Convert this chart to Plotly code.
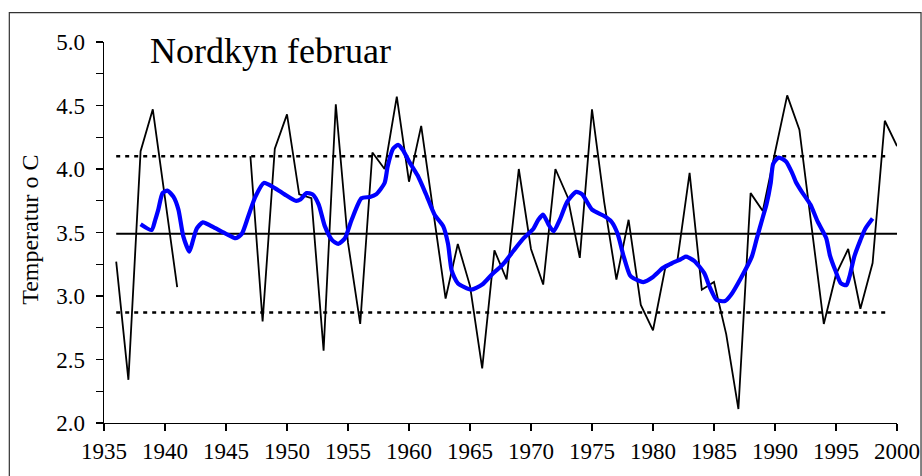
import plotly.graph_objects as go

# ---- data -------------------------------------------------------------
years = list(range(1936, 2001))
temps = [
    3.27, 2.34, 4.14, 4.47, 3.77, 3.07,             # 1936-1941
    None, None, None, None, None,                    # 1942-1946 (missing)
    4.10, 2.80, 4.16, 4.43, 3.80, 3.77, 2.57, 4.51,  # 1947-1954
    3.42, 2.78, 4.13, 4.00, 4.57, 3.90, 4.34, 3.66,  # 1955-1962
    2.98, 3.41, 3.08, 2.43, 3.36, 3.13, 4.00, 3.37,  # 1963-1970
    3.09, 4.00, 3.78, 3.30, 4.47, 3.74, 3.13, 3.60,  # 1971-1978
    2.93, 2.73, 3.22, 3.28, 3.97, 3.05, 3.11, 2.70,  # 1979-1986
    2.11, 3.81, 3.67, 4.13, 4.58, 4.31, 3.55, 2.78,  # 1987-1994
    3.17, 3.37, 2.90, 3.26, 4.38, 4.18,              # 1995-2000
]

smooth_years = [
    1938.0, 1938.9, 1939.2, 1939.45, 1939.8, 1940.2, 1940.7, 1941.1, 1941.5,
    1942.0, 1942.3, 1942.6, 1943.1, 1944.0, 1945.0, 1945.8, 1946.3, 1946.8,
    1947.4, 1948.1, 1949.0, 1949.8, 1950.7, 1951.1, 1951.6, 1952.1, 1952.6,
    1953.1, 1953.7, 1954.2, 1954.75, 1955.3, 1956.1, 1956.8, 1957.3, 1958.0,
    1958.25, 1958.7, 1959.1, 1959.5, 1960.0, 1960.7, 1961.4, 1962.1, 1962.8,
    1963.2, 1963.5, 1964.0, 1965.1, 1966.0, 1966.9, 1967.5, 1967.8, 1968.6,
    1969.4, 1970.2, 1970.6, 1971.0, 1971.45, 1971.85, 1972.4, 1972.95, 1973.7,
    1974.2, 1975.0, 1976.0, 1976.6, 1977.1, 1977.6, 1978.1, 1978.4, 1979.2,
    1980.0, 1980.8, 1981.6, 1982.3, 1982.7, 1983.4, 1984.2, 1984.65, 1985.2,
    1985.9, 1986.4, 1987.2, 1988.1, 1988.5, 1989.0, 1989.3, 1989.65, 1989.85,
    1990.3, 1990.9, 1991.4, 1991.7, 1992.2, 1992.9, 1993.5, 1994.2, 1994.5,
    1994.95, 1995.4, 1995.85, 1996.1, 1996.5, 1997.0, 1997.4, 1998.0,
]
smooth_values = [
    3.565, 3.52, 3.60, 3.68, 3.81, 3.83, 3.78, 3.68, 3.47,
    3.35, 3.44, 3.53, 3.58, 3.54, 3.49, 3.455, 3.49, 3.62,
    3.78, 3.89, 3.85, 3.80, 3.75, 3.76, 3.81, 3.80, 3.72,
    3.55, 3.44, 3.41, 3.455, 3.60, 3.77, 3.78, 3.80, 3.89,
    4.02, 4.16, 4.19, 4.15, 4.06, 3.95, 3.80, 3.64, 3.55,
    3.41, 3.20, 3.10, 3.05, 3.09, 3.18, 3.23, 3.26, 3.36,
    3.455, 3.53, 3.60, 3.64, 3.56, 3.51, 3.61, 3.74, 3.82,
    3.80, 3.68, 3.63, 3.585, 3.49, 3.31, 3.165, 3.14, 3.11,
    3.15, 3.22, 3.26, 3.29, 3.31, 3.275, 3.18, 3.07, 2.97,
    2.96, 3.01, 3.14, 3.31, 3.45, 3.62, 3.72, 3.89, 4.04,
    4.09, 4.06, 3.97, 3.90, 3.82, 3.72, 3.585, 3.455, 3.32,
    3.20, 3.10, 3.085, 3.15, 3.31, 3.44, 3.53, 3.61,
]

mean_level = 3.49
upper_level = 4.10
lower_level = 2.87
level_span = [1936, 2000]
dotted_span = [1936, 1999.4]

x_ticks = list(range(1935, 2001, 5))
y_ticks = [2.0, 2.5, 3.0, 3.5, 4.0, 4.5, 5.0]

title_text = "Nordkyn februar"
y_title = "Temperatur o C"

# ---- figure -----------------------------------------------------------
FONT = "Liberation Serif, Times New Roman, serif"

fig = go.Figure()

fig.add_trace(go.Scatter(x=level_span, y=[mean_level, mean_level], mode="lines",
                         line=dict(color="black", width=1.8), hoverinfo="skip"))
for lvl in (upper_level, lower_level):
    fig.add_trace(go.Scatter(x=dotted_span, y=[lvl, lvl], mode="lines",
                             line=dict(color="black", width=2.6, dash="4px,5px"),
                             hoverinfo="skip"))

fig.add_trace(go.Scatter(x=years, y=temps, mode="lines", connectgaps=False,
                         line=dict(color="black", width=1.8)))

fig.add_trace(go.Scatter(x=smooth_years, y=smooth_values, mode="lines",
                         line=dict(color="#0000FF", width=4.2, shape="spline", smoothing=0.6)))

fig.update_layout(
    width=922, height=476,
    margin=dict(l=104, r=25, t=42, b=53, autoexpand=False),
    paper_bgcolor="white", plot_bgcolor="white",
    showlegend=False,
    font=dict(family=FONT, color="black"),
)

fig.update_xaxes(
    range=[1935, 2000], tickvals=x_ticks, ticktext=[str(v) for v in x_ticks],
    showgrid=False, zeroline=False, showline=True, linecolor="black", linewidth=1.3,
    ticks="outside", ticklen=7, tickwidth=1.3, tickcolor="black",
    tickfont=dict(family=FONT, size=23, color="black"),
)
fig.update_yaxes(
    range=[2, 5], tickvals=y_ticks, ticktext=[f"{v:.1f}" for v in y_ticks],
    showgrid=False, zeroline=False, showline=True, linecolor="black", linewidth=1.3,
    ticks="outside", ticklen=7, tickwidth=1.3, tickcolor="black",
    tickfont=dict(family=FONT, size=23, color="black"),
    ticklabelstandoff=6,
    minor=dict(dtick=0.25, tick0=2, ticks="outside", ticklen=7, tickwidth=1.3,
               tickcolor="black", showgrid=False),
)

fig.add_annotation(text=title_text, xref="paper", yref="y", x=0.0555, y=4.93,
                   xanchor="left", yanchor="middle", showarrow=False,
                   font=dict(family=FONT, size=36, color="black"))
fig.add_annotation(text=y_title, xref="paper", yref="paper", x=-0.0933, y=0.507,
                   xanchor="center", yanchor="middle", textangle=-90, showarrow=False,
                   font=dict(family=FONT, size=24, color="black"))

# outer chart border
fig.add_shape(type="rect", xref="paper", yref="paper",
              x0=-0.1194, x1=1.0303, y0=-0.3, y1=1.0769,
              line=dict(color="#333333", width=1.2), fillcolor="rgba(0,0,0,0)",
              layer="above")

# remove the browser's default page margin so the figure fills the window exactly
fig.write_html(
    "out.html",
    config={"displayModeBar": False, "staticPlot": True},
    post_script="document.body.style.margin='0';document.body.style.overflow='hidden';",
)
